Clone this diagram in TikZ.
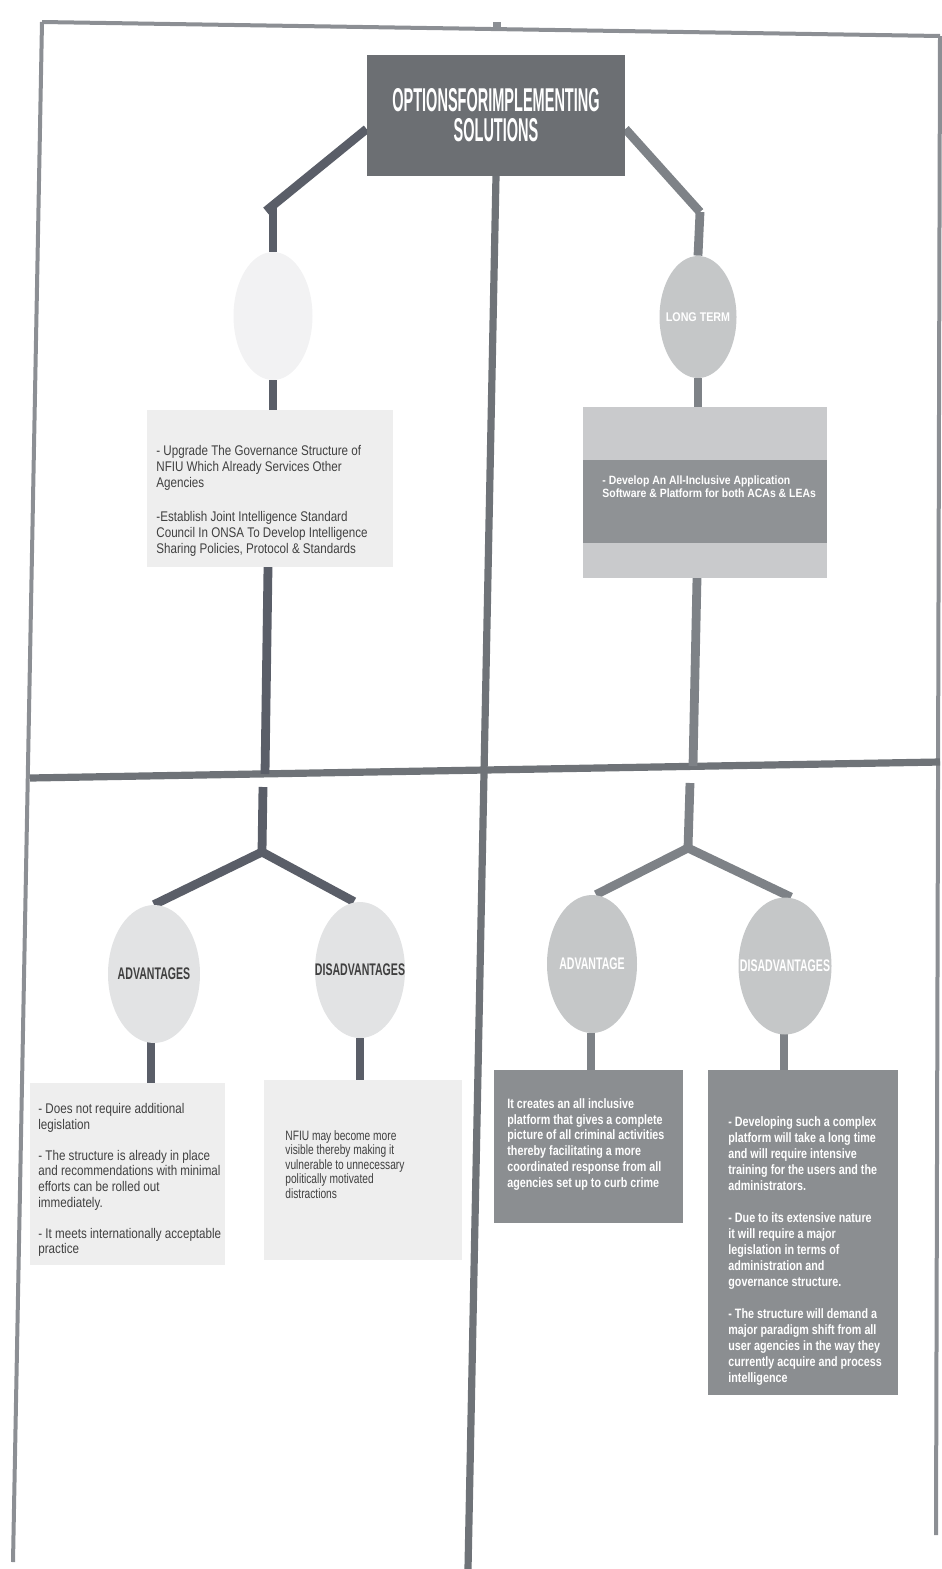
\documentclass[tikz,border=0pt]{standalone}
\usepackage{fontspec}
\setmainfont{Liberation Sans}
\newfontfamily\headfont{Liberation Sans}[FakeStretch=0.44]
\newfontfamily\ovalfont{Liberation Sans}[FakeStretch=0.63]
\newfontfamily\termfont{Liberation Sans}[FakeStretch=0.85]
\newfontfamily\notefont{Liberation Sans}[FakeStretch=0.83]
\newfontfamily\tightfont{Liberation Sans}[FakeStretch=0.75]
\newfontfamily\whitefont{Liberation Sans}[FakeStretch=0.79]
\newfontfamily\bandfont{Liberation Sans}[FakeStretch=0.87]
\usetikzlibrary{shapes.geometric}
\pgfdeclarelayer{back}
\pgfsetlayers{back,main}

\definecolor{titleC}{HTML}{6C6F73}
\definecolor{barD}{HTML}{5A5E68}
\definecolor{barL}{HTML}{7E8287}
\definecolor{divC}{HTML}{6F7378}
\definecolor{frameC}{HTML}{8C8F94}
\definecolor{faintC}{HTML}{F2F2F3}
\definecolor{ovalL}{HTML}{E2E3E4}
\definecolor{ovalR}{HTML}{C5C7C8}
\definecolor{paleC}{HTML}{EEEEEE}
\definecolor{ltC}{HTML}{C9CACC}
\definecolor{bandC}{HTML}{8F9295}
\definecolor{greyboxC}{HTML}{8B8E91}
\definecolor{textD}{HTML}{404040}

\begin{document}
\begin{tikzpicture}[x=0.5pt,y=-0.5pt,
  bar/.style={line width=4.4pt,draw=barD},
  barlight/.style={line width=4.4pt,draw=barL},
  frameline/.style={line width=2pt,draw=frameC},
  divider/.style={line width=3.6pt,draw=divC},
  oval/.style={ellipse,draw=none,fill=#1,inner sep=0pt},
  panel/.style={rectangle,draw=none,fill=#1,inner sep=0pt},
  note/.style={anchor=north west,inner sep=0pt,align=left},
  ovallabel/.style={font=\ovalfont\bfseries\fontsize{8.4}{9}\selectfont}
]
\useasboundingbox (0,0) rectangle (942,1569);

% ---------- title ----------
\node[panel=titleC, minimum width=129pt, minimum height=60.5pt, text=white,
      align=center, font=\headfont\bfseries\fontsize{16.5}{15}\selectfont]
  (title) at (496,115) {OPTIONSFORIMPLEMENTING\\SOLUTIONS};

% ---------- left branch (short term) ----------
\node[oval=faintC, minimum width=39.5pt, minimum height=64pt] (short) at (273,316) {};
\node[panel=paleC, minimum width=123pt, minimum height=78.5pt] (stbox) at (270,488.5) {};
\node[note, text=textD, font=\notefont\fontsize{7}{8}\selectfont] (sttext) at (156,445)
  {- Upgrade The Governance Structure of\\NFIU Which Already Services Other\\Agencies\\[9pt]%
   -Establish Joint Intelligence Standard\\Council In ONSA To Develop Intelligence\\Sharing Policies, Protocol \& Standards};

% ---------- right branch (long term) ----------
\node[oval=ovalR, minimum width=38.5pt, minimum height=61pt, text=white,
      font=\termfont\bfseries\fontsize{6.3}{7}\selectfont] (long) at (698,317) {\makebox[0pt]{LONG TERM}};
\node[panel=ltC, minimum width=122pt, minimum height=85.5pt] (ltbox) at (705,492.5) {};
\node[panel=bandC, minimum width=122pt, minimum height=41.5pt] (ltband) at (705,501.5) {};
\node[inner sep=0pt, anchor=west, align=left, text=white,
      font=\bandfont\bfseries\fontsize{6}{6.5}\selectfont] (lttext) at (602,487)
  {- Develop An All-Inclusive Application\\Software \& Platform for both ACAs \& LEAs};

% ---------- lower left: advantages / disadvantages ----------
\node[oval=ovalL, minimum width=46pt, minimum height=69pt, text=textD, ovallabel] (advL) at (154,974) {\makebox[0pt]{ADVANTAGES}};
\node[oval=ovalL, minimum width=45pt, minimum height=68pt, text=textD, ovallabel] (disL) at (360,970) {\makebox[0pt]{DISADVANTAGES}};

\node[panel=paleC, minimum width=97.5pt, minimum height=91pt] (advLbox) at (127.5,1174) {};
\node[note, text=textD, font=\notefont\fontsize{7}{7.8}\selectfont] (advLtext) at (38,1103)
  {- Does not require additional\\legislation\\[7.8pt]%
   - The structure is already in place\\and recommendations with minimal\\efforts can be rolled out\\immediately.\\[7.8pt]%
   - It meets internationally acceptable\\practice};

\node[panel=paleC, minimum width=99pt, minimum height=90pt] (disLbox) at (363,1170) {};
\node[note, text=textD, font=\tightfont\fontsize{6.8}{7.25}\selectfont] (disLtext) at (285,1130)
  {NFIU may become more\\visible thereby making it\\vulnerable to unnecessary\\politically motivated\\distractions};

% ---------- lower right: advantage / disadvantages ----------
\node[oval=ovalR, minimum width=45pt, minimum height=69pt, text=white, ovallabel] (advR) at (592,964) {\makebox[0pt]{ADVANTAGE}};
\node[oval=ovalR, minimum width=46.5pt, minimum height=68.5pt, text=white, ovallabel] (disR) at (785,966) {\makebox[0pt]{DISADVANTAGES}};

\node[panel=greyboxC, minimum width=94.5pt, minimum height=76.5pt] (advRbox) at (588.5,1146.5) {};
\node[note, text=white, font=\whitefont\bfseries\fontsize{6.8}{7.9}\selectfont] (advRtext) at (507,1098)
  {It creates an all inclusive\\platform that gives a complete\\picture of all criminal activities\\thereby facilitating a more\\coordinated response from all\\agencies set up to curb crime};

\node[panel=greyboxC, minimum width=95pt, minimum height=162.5pt] (disRbox) at (803,1232.5) {};
\node[note, text=white, font=\whitefont\bfseries\fontsize{6.8}{8}\selectfont] (disRtext) at (728,1116)
  {- Developing such a complex\\platform will take a long time\\and will require intensive\\training for the users and the\\administrators.\\[8pt]%
   - Due to its extensive nature\\it will require a major\\legislation in terms of\\administration and\\governance structure.\\[8pt]%
   - The structure will demand a\\major paradigm shift from all\\user agencies in the way they\\currently acquire and process\\intelligence};

% ---------- joints and line ends ----------
\coordinate (jl) at (266,211);
\coordinate (jr) at (700,212);
\coordinate (jlb) at (262,852);
\coordinate (jrb) at (688,848);
\coordinate (dlU) at (265,774);
\coordinate (dlD) at (263,787);
\coordinate (drU) at (693,766);
\coordinate (drD) at (690,783);

\begin{pgfonlayer}{back}
  % page frame and quadrant dividers
  \draw[frameline] (42,22) -- (940,36);
  \fill[frameC] (493,22) rectangle (501,29);
  \draw[frameline] (42,22) -- (13,1562);
  \draw[frameline] (940,36) -- (936,1535);
  \draw[divider] (title.south) -- (468,1569);
  \draw[divider] (30,778) -- (940,762);

  % left column connectors
  \draw[bar] ([yshift=-7pt]title.west) -- (jl);
  \draw[bar] (273,206) -- (short.north);
  \draw[bar] (short.south) -- (short.south |- stbox.north);
  \draw[bar] (268,567) -- (dlU);
  \draw[bar] (dlD) -- (jlb);
  \draw[bar] (jlb) -- (advL.north);
  \draw[bar] (jlb) -- ([xshift=-3pt]disL.north);
  \draw[bar] (151,1040) -- (151,1083);
  \draw[bar] (disL.south) -- (disL.south |- disLbox.north);

  % right column connectors
  \draw[barlight] ([yshift=-7pt]title.east) -- (jr);
  \draw[barlight] (jr) -- (long.north);
  \draw[barlight] (long.south) -- (long.south |- ltbox.north);
  \draw[barlight] (697,578) -- (drU);
  \draw[barlight] (drD) -- (jrb);
  \draw[barlight] (jrb) -- ([xshift=2pt]advR.north);
  \draw[barlight] (jrb) -- ([xshift=3pt]disR.north);
  \draw[barlight] (591,1033) -- (591,1070);
  \draw[barlight] (784,1034) -- (784,1070);
\end{pgfonlayer}
\end{tikzpicture}
\end{document}
